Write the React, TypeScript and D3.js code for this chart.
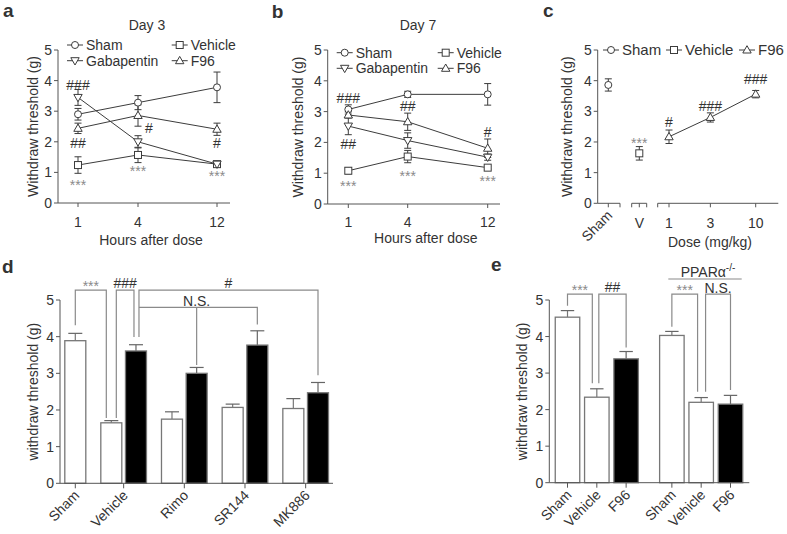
import React from 'react';
import * as d3 from 'd3';

const FONT = "'Liberation Sans', Arial, Helvetica, sans-serif";
const TXT = '#333';
const AX = '#555';
const LN = '#3c3c3c';
const GR = '#8a8a8a';
const STAR = '#8a8a8a';

// ---------------- data: panels a & b ----------------
const hours = [1, 4, 12];
const hourLabels = ['1', '4', '12'];
const yTicks = [0, 1, 2, 3, 4, 5];

const day3Sham = [2.9, 3.28, 3.78];
const day3ShamErr = [0.19, 0.23, 0.5];
const day3Vehicle = [1.24, 1.57, 1.27];
const day3VehicleErr = [0.27, 0.25, 0.05];
const day3Gaba = [3.45, 2.0, 1.27];
const day3GabaErr = [0.26, 0.2, 0.05];
const day3F96 = [2.44, 2.86, 2.41];
const day3F96Err = [0.17, 0.35, 0.2];
const day3Marks = [
  { h: 1, v: 3.86, t: '###' },
  { h: 1, v: 1.96, t: '##' },
  { h: 1, v: 0.69, t: '***' },
  { h: 4, v: 2.45, t: '#', dx: 11 },
  { h: 4, v: 1.14, t: '***' },
  { h: 12, v: 1.96, t: '#' },
  { h: 12, v: 0.98, t: '***' },
];

const day7Sham = [3.07, 3.56, 3.56];
const day7ShamErr = [0.15, 0.1, 0.35];
const day7Vehicle = [1.08, 1.54, 1.18];
const day7VehicleErr = [0.1, 0.2, 0.05];
const day7Gaba = [2.53, 2.06, 1.52];
const day7GabaErr = [0.28, 0.25, 0.1];
const day7F96 = [2.89, 2.67, 1.81];
const day7F96Err = [0.1, 0.28, 0.3];
const day7Marks = [
  { h: 1, v: 3.44, t: '###' },
  { h: 1, v: 1.95, t: '##' },
  { h: 1, v: 0.68, t: '***' },
  { h: 4, v: 3.18, t: '##' },
  { h: 4, v: 1.0, t: '***' },
  { h: 12, v: 2.34, t: '#' },
  { h: 12, v: 0.84, t: '***' },
];

// ---------------- data: panel c ----------------
const cShamValue = 3.86;
const cShamErr = 0.2;
const cVehicleValue = 1.63;
const cVehicleErr = 0.22;
const cDoses = [1, 3, 10];
const cDoseLabels = ['1', '3', '10'];
const cF96 = [2.17, 2.8, 3.56];
const cF96Err = [0.22, 0.15, 0.12];
const cMarks = [
  { key: 'V', v: 2.06, t: '***' },
  { key: 1, v: 2.65, t: '#' },
  { key: 3, v: 3.17, t: '###' },
  { key: 10, v: 4.05, t: '###' },
];

// ---------------- data: panel d ----------------
const dGroups = ['Sham', 'Vehicle', 'Rimo', 'SR144', 'MK886'];
const dWhite = [3.89, 1.65, 1.75, 2.07, 2.04];
const dWhiteErr = [0.2, 0.06, 0.2, 0.09, 0.27];
const dBlack = [null, 3.61, 3.0, 3.77, 2.47];
const dBlackErr = [null, 0.17, 0.16, 0.39, 0.28];
const dBrackets = [
  { a: 0, adx: 0, ab: 4.31, b: 1, bdx: -5, bb: 1.78, top: 5.27, t: '***' },
  { a: 1, adx: 5, ab: 1.78, b: 2, bdx: -2, bb: 3.99, top: 5.27, t: '###' },
  { a: 2, adx: 3, ab: 3.99, b: 8, bdx: 0, bb: 2.95, top: 5.27, t: '#' },
  { a: 2, adx: 3, ab: 4.8, b: 6, bdx: 0, bb: 4.33, top: 4.8, t: 'N.S.', m: 4, mb: 3.23 },
];

// ---------------- data: panel e ----------------
const eLabels = ['Sham', 'Vehicle', 'F96', 'Sham', 'Vehicle', 'F96'];
const eValues = [4.53, 2.34, 3.39, 4.03, 2.2, 2.15];
const eErr = [0.18, 0.23, 0.2, 0.11, 0.13, 0.24];
const eBlack = [false, false, true, false, false, true];
const eGroup = [0, 0, 0, 1, 1, 1];
const eBrackets = [
  { a: 0, adx: 0, ab: 4.84, b: 1, bdx: -4.5, bb: 2.72, top: 5.16, t: '***' },
  { a: 1, adx: 2, ab: 2.72, b: 2, bdx: 0, bb: 3.7, top: 5.16, t: '##' },
  { a: 3, adx: 0, ab: 4.27, b: 4, bdx: -3.6, bb: 2.49, top: 5.16, t: '***' },
  { a: 4, adx: 4.4, ab: 2.49, b: 5, bdx: 0, bb: 2.54, top: 5.16, t: 'N.S.' },
];

// ---------------- helpers ----------------
type MarkerType = 'circle' | 'square' | 'tri' | 'tridown';

function Marker({ type, x, y }: { type: MarkerType; x: number; y: number }) {
  const common = { fill: '#fff', stroke: LN, strokeWidth: 1 };
  if (type === 'circle') return <circle cx={x} cy={y} r={3.5} {...common} />;
  if (type === 'square') return <rect x={x - 3.5} y={y - 3.5} width={7} height={7} {...common} />;
  if (type === 'tri') return <path d={`M${x},${y - 4.3}L${x + 4.2},${y + 3}L${x - 4.2},${y + 3}Z`} {...common} />;
  return <path d={`M${x},${y + 4.3}L${x + 4.2},${y - 3}L${x - 4.2},${y - 3}Z`} {...common} />;
}

function LegendItem({ x, y, type, label, size = 14 }: any) {
  return (
    <g>
      <line x1={x} x2={x + 16} y1={y} y2={y} stroke={LN} />
      <Marker type={type} x={x + 8} y={y} />
      <text x={x + 19} y={y + size * 0.36} fontSize={size} fill={TXT}>{label}</text>
    </g>
  );
}

function SigText({ x, y, t }: { x: number; y: number; t: string }) {
  if (t.startsWith('*'))
    return <text x={x} y={y + 8} textAnchor="middle" fontSize={14} fill={STAR}>{t}</text>;
  return <text x={x} y={y + 5} textAnchor="middle" fontSize={14} fill={TXT}>{t}</text>;
}

function YAxis({ x, y, label, labelX }: any) {
  return (
    <g>
      <line x1={x} x2={x} y1={y(0)} y2={y(5)} stroke={AX} />
      {yTicks.map((t) => (
        <g key={t}>
          <line x1={x - 4} x2={x} y1={y(t)} y2={y(t)} stroke={AX} />
          <text x={x - 6} y={y(t) + 5} textAnchor="end" fontSize={14} fill={TXT}>{t}</text>
        </g>
      ))}
      <text transform={`translate(${labelX + 5},${(y(0) + y(5)) / 2}) rotate(-90)`} textAnchor="middle" fontSize={14} fill={TXT}>
        {label}
      </text>
    </g>
  );
}

function PanelLabel({ x, y, t }: any) {
  return <text x={x} y={y} fontSize={19} fontWeight="bold" fill={TXT}>{t}</text>;
}

// ---------------- line panels ----------------
function LinePanel(p: any) {
  const x = d3.scaleLinear().domain(hours).range(p.xRange);
  const y = d3.scaleLinear().domain([0, 5]).range([p.yBottom, p.yTop]);
  const line = d3.line<number>().x((_, i) => x(hours[i])).y((v) => y(v));
  const series = [
    { name: 'Sham', v: p.sham, e: p.shamErr, m: 'circle' as MarkerType },
    { name: 'Vehicle', v: p.vehicle, e: p.vehicleErr, m: 'square' as MarkerType },
    { name: 'Gabapentin', v: p.gaba, e: p.gabaErr, m: 'tridown' as MarkerType },
    { name: 'F96', v: p.f96, e: p.f96Err, m: 'tri' as MarkerType },
  ];
  const legendPos = [
    [p.legCols[0], p.legRows[0]],
    [p.legCols[1], p.legRows[0]],
    [p.legCols[0], p.legRows[1]],
    [p.legCols[1], p.legRows[1]],
  ];
  return (
    <g>
      <PanelLabel x={p.labelPos[0]} y={p.labelPos[1]} t={p.label} />
      <text x={p.titlePos[0]} y={p.titlePos[1]} textAnchor="middle" fontSize={14} fill={TXT}>{p.title}</text>
      <YAxis x={p.axisX} y={y} label="Withdraw threshold (g)" labelX={p.ylabelX} />
      <line x1={p.axisX} x2={p.axisEnd} y1={p.yBottom} y2={p.yBottom} stroke={AX} />
      {hours.map((h, i) => (
        <g key={h}>
          <line x1={x(h)} x2={x(h)} y1={p.yBottom} y2={p.yBottom + 4} stroke={AX} />
          <text x={x(h)} y={p.tickY} textAnchor="middle" fontSize={14} fill={TXT}>{hourLabels[i]}</text>
        </g>
      ))}
      <text x={p.xlabelPos[0]} y={p.xlabelPos[1]} textAnchor="middle" fontSize={14} fill={TXT}>Hours after dose</text>
      {series.map((s) => (
        <path key={s.name} d={line(s.v) || ''} fill="none" stroke={LN} strokeWidth={1} />
      ))}
      {series.map((s) =>
        s.v.map((v: number, i: number) => (
          <g key={s.name + i} stroke={LN} strokeWidth={1}>
            <line x1={x(hours[i])} x2={x(hours[i])} y1={y(v - s.e[i])} y2={y(v + s.e[i])} />
            <line x1={x(hours[i]) - 3.5} x2={x(hours[i]) + 3.5} y1={y(v + s.e[i])} y2={y(v + s.e[i])} />
            <line x1={x(hours[i]) - 3.5} x2={x(hours[i]) + 3.5} y1={y(v - s.e[i])} y2={y(v - s.e[i])} />
          </g>
        ))
      )}
      {series.map((s) =>
        s.v.map((v: number, i: number) => <Marker key={s.name + 'm' + i} type={s.m} x={x(hours[i])} y={y(v)} />)
      )}
      {p.marks.map((m: any, i: number) => (
        <SigText key={i} x={x(m.h) + (m.dx || 0)} y={y(m.v)} t={m.t} />
      ))}
      {series.map((s, i) => (
        <LegendItem key={s.name} x={legendPos[i][0]} y={legendPos[i][1]} type={s.m} label={s.name} />
      ))}
    </g>
  );
}

// ---------------- panel c ----------------
function DosePanel() {
  const axisX = 597.7;
  const yBottom = 203.3;
  const y = d3.scaleLinear().domain([0, 5]).range([yBottom, 50]);
  const xDose = d3.scaleLog().domain([1, 10]).range([669, 755.7]);
  const xCat = d3.scalePoint().domain(['Sham', 'V']).range([608.3, 639.3]);
  const xs = xCat('Sham') as number;
  const xv = xCat('V') as number;
  const line = d3.line<number>().x((_, i) => xDose(cDoses[i])).y((v) => y(v));
  const errBar = (cx: number, v: number, e: number) => (
    <g stroke={LN}>
      <line x1={cx} x2={cx} y1={y(v - e)} y2={y(v + e)} />
      <line x1={cx - 3.5} x2={cx + 3.5} y1={y(v + e)} y2={y(v + e)} />
      <line x1={cx - 3.5} x2={cx + 3.5} y1={y(v - e)} y2={y(v - e)} />
    </g>
  );
  const segs = [
    { x1: axisX, x2: xs + 11.7, ticks: [xs, xs + 11.7] },
    { x1: xv - 7.6, x2: xv + 7.4, ticks: [xv - 7.6, xv, xv + 7.4] },
    { x1: xDose(1) - 11.3, x2: xDose(10) + 22.6, ticks: [xDose(1) - 11.3, ...cDoses.map((d) => xDose(d))] },
  ];
  const markX = (k: any) => (k === 'V' ? xv : xDose(k));
  return (
    <g>
      <PanelLabel x={543} y={17} t="c" />
      <YAxis x={axisX} y={y} label="Withdraw threshold (g)" labelX={566.7} />
      {segs.map((s, i) => (
        <g key={i}>
          <line x1={s.x1} x2={s.x2} y1={yBottom} y2={yBottom} stroke={AX} />
          {s.ticks.map((t, j) => (
            <line key={j} x1={t} x2={t} y1={yBottom} y2={yBottom + 4} stroke={AX} />
          ))}
        </g>
      ))}
      <text transform={`translate(${xs + 5},${yBottom + 13}) rotate(-45)`} textAnchor="end" fontSize={14} fill={TXT}>Sham</text>
      <text x={xv} y={yBottom + 25} textAnchor="middle" fontSize={14} fill={TXT}>V</text>
      {cDoses.map((d, i) => (
        <text key={d} x={xDose(d)} y={yBottom + 25} textAnchor="middle" fontSize={14} fill={TXT}>{cDoseLabels[i]}</text>
      ))}
      <text x={710} y={247} textAnchor="middle" fontSize={14} fill={TXT}>Dose (mg/kg)</text>
      <path d={line(cF96) || ''} fill="none" stroke={LN} />
      {errBar(xs, cShamValue, cShamErr)}
      {errBar(xv, cVehicleValue, cVehicleErr)}
      {cDoses.map((d, i) => <g key={d}>{errBar(xDose(d), cF96[i], cF96Err[i])}</g>)}
      <Marker type="circle" x={xs} y={y(cShamValue)} />
      <Marker type="square" x={xv} y={y(cVehicleValue)} />
      {cDoses.map((d, i) => <Marker key={d} type="tri" x={xDose(d)} y={y(cF96[i])} />)}
      {cMarks.map((m, i) => <SigText key={i} x={markX(m.key)} y={y(m.v)} t={m.t} />)}
      <LegendItem x={603} y={50} type="circle" label="Sham" size={15} />
      <LegendItem x={666} y={50} type="square" label="Vehicle" size={15} />
      <LegendItem x={739} y={50} type="tri" label="F96" size={15} />
    </g>
  );
}

// ---------------- bar panels ----------------
function Brackets({ list, bx, y }: any) {
  return (
    <g>
      {list.map((b: any, i: number) => {
        const xa = bx[b.a] + b.adx;
        const xb = bx[b.b] + b.bdx;
        const yt = y(b.top);
        const mid = b.m !== undefined ? bx[b.m] : (xa + xb) / 2;
        return (
          <g key={i}>
            <path d={`M${xa},${y(b.ab)}V${yt}H${xb}V${y(b.bb)}`} fill="none" stroke={GR} strokeWidth={1.2} />
            {b.m !== undefined && <line x1={mid} x2={mid} y1={yt} y2={y(b.mb)} stroke={GR} strokeWidth={1.2} />}
            {b.t === 'N.S.' ? (
              <text x={mid} y={yt - 1} textAnchor="middle" fontSize={14} fill={TXT}>{b.t}</text>
            ) : (
              <SigText x={mid} y={yt - 7} t={b.t} />
            )}
          </g>
        );
      })}
    </g>
  );
}

function Bar({ cx, w, v, e, black, y, cap }: any) {
  return (
    <g>
      <line x1={cx} x2={cx} y1={y(v)} y2={y(v + e)} stroke={black ? '#666' : '#777'} strokeWidth={1.2} />
      <line x1={cx - cap} x2={cx + cap} y1={y(v + e)} y2={y(v + e)} stroke="#666" strokeWidth={1.2} />
      <rect x={cx - w / 2} y={y(v)} width={w} height={y(0) - y(v)} fill={black ? '#000' : '#fff'} stroke="#777" strokeWidth={1.3} />
    </g>
  );
}

function PanelD() {
  const axisX = 60;
  const y = d3.scaleLinear().domain([0, 5]).range([483.3, 300]);
  const gap = 0.46;
  const slots: { g: number; u: number; v: number; e: number; black: boolean }[] = [];
  let k = 0;
  dGroups.forEach((_, g) => {
    slots.push({ g, u: k + g * gap, v: dWhite[g], e: dWhiteErr[g], black: false });
    k++;
    if (dBlack[g] !== null) {
      slots.push({ g, u: k + g * gap, v: dBlack[g] as number, e: dBlackErr[g] as number, black: true });
      k++;
    }
  });
  const maxU = slots[slots.length - 1].u;
  const x = d3.scaleLinear().domain([0, maxU]).range([75.3, 318]);
  const bx = slots.map((s) => x(s.u));
  const groupX = dGroups.map((_, g) => d3.mean(slots.filter((s) => s.g === g), (s) => x(s.u)) as number);
  return (
    <g>
      <PanelLabel x={2} y={273} t="d" />
      <YAxis x={axisX} y={y} label="withdraw threshold (g)" labelX={33.3} />
      {slots.map((s, i) => (
        <Bar key={i} cx={bx[i]} w={21} v={s.v} e={s.e} black={s.black} y={y} cap={7} />
      ))}
      <line x1={axisX} x2={333} y1={y(0)} y2={y(0)} stroke={AX} />
      {groupX.map((gx, i) => (
        <g key={i}>
          <line x1={gx} x2={gx} y1={y(0)} y2={y(0) + 5} stroke={AX} />
          <text transform={`translate(${gx + 5},${y(0) + 13}) rotate(-45)`} textAnchor="end" fontSize={14} fill={TXT}>{dGroups[i]}</text>
        </g>
      ))}
      <Brackets list={dBrackets} bx={bx} y={y} />
    </g>
  );
}

function PanelE() {
  const axisX = 549.3;
  const y = d3.scaleLinear().domain([0, 5]).range([482.7, 300]);
  const gap = 0.56;
  const us = eValues.map((_, i) => i + eGroup[i] * gap);
  const x = d3.scaleLinear().domain([0, us[us.length - 1]]).range([567.5, 730.5]);
  const bx = us.map((u) => x(u));
  return (
    <g>
      <PanelLabel x={491} y={271} t="e" />
      <YAxis x={axisX} y={y} label="withdraw threshold (g)" labelX={521.7} />
      {eValues.map((v, i) => (
        <Bar key={i} cx={bx[i]} w={24.5} v={v} e={eErr[i]} black={eBlack[i]} y={y} cap={6.7} />
      ))}
      <line x1={axisX} x2={749.3} y1={y(0)} y2={y(0)} stroke={AX} />
      {bx.map((cx, i) => (
        <g key={i}>
          <line x1={cx} x2={cx} y1={y(0)} y2={y(0) + 5} stroke={AX} />
          <text transform={`translate(${cx + 5},${y(0) + 13}) rotate(-45)`} textAnchor="end" fontSize={14} fill={TXT}>{eLabels[i]}</text>
        </g>
      ))}
      <Brackets list={eBrackets} bx={bx} y={y} />
      <line x1={668.3} x2={741.7} y1={279} y2={279} stroke={GR} strokeWidth={1.2} />
      <text x={708} y={276.5} textAnchor="middle" fontSize={14} fill={TXT}>
        PPARα<tspan fontSize={10} dy={-6}>-/-</tspan>
      </text>
    </g>
  );
}

const panelA = {
  label: 'a', labelPos: [3, 17], title: 'Day 3', titlePos: [147, 30],
  axisX: 58, axisEnd: 230, yTop: 50, yBottom: 203, xRange: [78, 138, 217],
  ylabelX: 33, xlabelPos: [151, 245], tickY: 227,
  legCols: [67, 171.7], legRows: [45, 60.7],
  sham: day3Sham, shamErr: day3ShamErr, vehicle: day3Vehicle, vehicleErr: day3VehicleErr,
  gaba: day3Gaba, gabaErr: day3GabaErr, f96: day3F96, f96Err: day3F96Err, marks: day3Marks,
};
const panelB = {
  label: 'b', labelPos: [271.7, 18], title: 'Day 7', titlePos: [418, 30],
  axisX: 327.7, axisEnd: 500, yTop: 50, yBottom: 204, xRange: [348.3, 407.7, 487.7],
  ylabelX: 298, xlabelPos: [425.8, 243], tickY: 227,
  legCols: [336.7, 437.7], legRows: [52.7, 68.3],
  sham: day7Sham, shamErr: day7ShamErr, vehicle: day7Vehicle, vehicleErr: day7VehicleErr,
  gaba: day7Gaba, gabaErr: day7GabaErr, f96: day7F96, f96Err: day7F96Err, marks: day7Marks,
};

export default function App() {
  return (
    <svg
      width={787}
      height={534}
      style={{ position: 'absolute', left: 0, top: 0, background: '#fff', fontFamily: FONT }}
    >
      <rect width={787} height={534} fill="#fff" />
      <LinePanel {...panelA} />
      <LinePanel {...panelB} />
      <DosePanel />
      <PanelD />
      <PanelE />
    </svg>
  );
}
